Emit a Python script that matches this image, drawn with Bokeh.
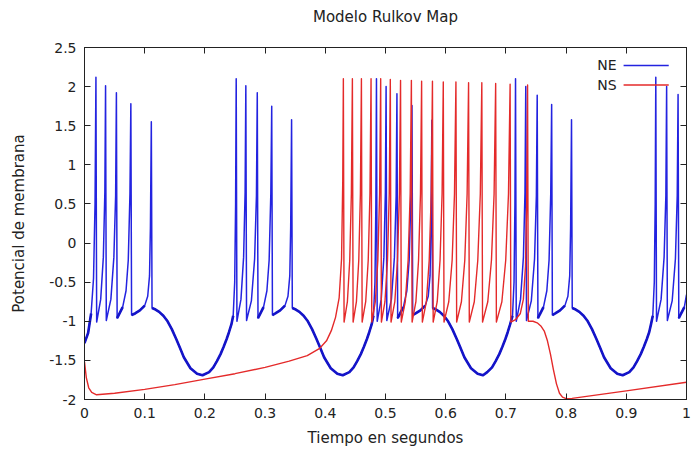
from bokeh.plotting import figure
from bokeh.models import (LinearAxis, FixedTicker, CustomJSTickFormatter, Range1d, Label,
                          CustomLabelingPolicy)
from bokeh.embed import file_html
from bokeh.resources import INLINE

FONT = "DejaVu Sans"

# Axis ticks
x_ticks = [0, 0.1, 0.2, 0.3, 0.4, 0.5, 0.6, 0.7, 0.8, 0.9, 1]
y_ticks = [-2, -1.5, -1, -0.5, 0, 0.5, 1, 1.5, 2, 2.5]

# NE: bursting neuron membrane potential (time in s, potential)
ne_t = [
    # burst 1
    0.000, 0.006, 0.011, 0.015, 0.0175, 0.019, 0.0202,
    0.0269, 0.0313, 0.0338, 0.035, 0.0362,
    0.0438, 0.0488, 0.0517, 0.053, 0.0542,
    0.0634, 0.069, 0.0727, 0.0755, 0.077, 0.0782,
    0.084, 0.092, 0.100, 0.105, 0.108, 0.1095, 0.111, 0.1122,
    0.118, 0.124, 0.131, 0.138, 0.145, 0.152, 0.158, 0.165, 0.176, 0.187, 0.196, 0.207,
    0.214, 0.220, 0.226, 0.231, 0.236, 0.240, 0.244, 0.247, 0.2495, 0.251, 0.252, 0.2532,
    # burst 2
    0.2599, 0.2643, 0.2668, 0.268, 0.2692,
    0.2772, 0.2826, 0.2856, 0.287, 0.2882,
    0.2974, 0.303, 0.3067, 0.3095, 0.311, 0.3122,
    0.317, 0.325, 0.333, 0.338, 0.341, 0.3425, 0.344, 0.3452,
    0.351, 0.357, 0.364, 0.371, 0.378, 0.385, 0.391, 0.398, 0.409, 0.420, 0.429, 0.440,
    0.447, 0.453, 0.459, 0.464, 0.469, 0.473, 0.477, 0.480, 0.4825, 0.484, 0.485, 0.4862,
    # burst 3
    0.4929, 0.4973, 0.4998, 0.501, 0.5022,
    0.5098, 0.5148, 0.5177, 0.519, 0.5202,
    0.5297, 0.5355, 0.5393, 0.5423, 0.544, 0.5452,
    0.550, 0.558, 0.566, 0.571, 0.574, 0.5755, 0.577, 0.5782,
    0.584, 0.590, 0.597, 0.604, 0.611, 0.618, 0.624, 0.631, 0.642, 0.653, 0.662, 0.669,
    0.677, 0.683, 0.689, 0.694, 0.699, 0.703, 0.707, 0.711, 0.7135, 0.715, 0.716, 0.7172,
    # burst 4
    0.7243, 0.7291, 0.7317, 0.733, 0.7342,
    0.7422, 0.7476, 0.7506, 0.752, 0.7532,
    0.7624, 0.768, 0.7717, 0.7745, 0.776, 0.7772,
    0.782, 0.790, 0.798, 0.803, 0.806, 0.8075, 0.809, 0.8102,
    0.816, 0.822, 0.829, 0.836, 0.843, 0.850, 0.856, 0.863, 0.874, 0.885, 0.894, 0.905,
    0.912, 0.918, 0.924, 0.929, 0.934, 0.938, 0.941, 0.944, 0.9465, 0.948, 0.949, 0.9502,
    # burst 5
    0.9578, 0.9628, 0.9657, 0.967, 0.9682,
    0.9762, 0.9816, 0.9846, 0.986, 0.9872,
    0.9964, 1.000,
]
ne_v = [
    # burst 1
    -1.28, -1.15, -0.90, -0.45, 0.50, 2.12, -1.01,
    -0.72, -0.18, 0.65, 2.01, -0.99,
    -0.72, -0.18, 0.60, 1.92, -0.96,
    -0.82, -0.61, -0.22, 0.63, 1.78, -0.92,
    -0.90, -0.86, -0.80, -0.68, -0.42, 0.20, 1.55, -0.83,
    -0.85, -0.88, -0.93, -1.00, -1.10, -1.22, -1.33, -1.46, -1.60, -1.67, -1.69, -1.65,
    -1.59, -1.51, -1.42, -1.33, -1.23, -1.14, -1.04, -0.93, -0.50, 0.50, 2.10, -1.00,
    # burst 2
    -0.72, -0.18, 0.65, 2.01, -0.99,
    -0.74, -0.20, 0.60, 1.92, -0.96,
    -0.82, -0.61, -0.22, 0.63, 1.75, -0.92,
    -0.90, -0.86, -0.80, -0.68, -0.42, 0.20, 1.575, -0.83,
    -0.85, -0.88, -0.93, -1.00, -1.10, -1.22, -1.33, -1.46, -1.60, -1.67, -1.69, -1.65,
    -1.59, -1.51, -1.42, -1.33, -1.23, -1.14, -1.04, -0.93, -0.50, 0.50, 2.10, -1.00,
    # burst 3
    -0.72, -0.18, 0.65, 2.00, -0.99,
    -0.72, -0.18, 0.60, 1.91, -0.96,
    -0.82, -0.61, -0.22, 0.63, 1.76, -0.92,
    -0.90, -0.86, -0.80, -0.68, -0.42, 0.20, 1.57, -0.83,
    -0.85, -0.88, -0.93, -1.00, -1.10, -1.22, -1.33, -1.46, -1.60, -1.67, -1.69, -1.65,
    -1.59, -1.51, -1.42, -1.33, -1.23, -1.14, -1.04, -0.93, -0.50, 0.50, 2.10, -1.00,
    # burst 4
    -0.72, -0.18, 0.65, 2.00, -0.99,
    -0.74, -0.20, 0.60, 1.89, -0.96,
    -0.82, -0.61, -0.22, 0.63, 1.77, -0.92,
    -0.90, -0.86, -0.80, -0.68, -0.42, 0.20, 1.575, -0.83,
    -0.85, -0.88, -0.93, -1.00, -1.10, -1.22, -1.33, -1.46, -1.60, -1.67, -1.69, -1.65,
    -1.59, -1.51, -1.42, -1.33, -1.23, -1.14, -1.04, -0.93, -0.50, 0.50, 2.12, -1.00,
    # burst 5
    -0.72, -0.18, 0.60, 2.00, -0.99,
    -0.74, -0.20, 0.60, 1.90, -0.96,
    -0.82, -0.66,
]

# NS: slow neuron membrane potential
ns_t = [
    0.000, 0.003, 0.007, 0.012, 0.020, 0.050, 0.100, 0.150, 0.200, 0.250, 0.300,
    0.340, 0.370, 0.390, 0.402, 0.410, 0.417, 0.423, 0.427, 0.429, 0.430, 0.4312,
    0.4367, 0.4406, 0.4433, 0.445, 0.4462,
    0.4517, 0.4556, 0.4583, 0.460, 0.4612,
    0.4671, 0.4713, 0.4742, 0.476, 0.4772,
    0.4831, 0.4873, 0.4902, 0.492, 0.4932,
    0.4991, 0.5033, 0.5062, 0.508, 0.5092,
    0.5155, 0.5199, 0.5231, 0.525, 0.5262,
    0.5329, 0.5376, 0.5410, 0.543, 0.5442,
    0.5505, 0.5549, 0.5581, 0.560, 0.5612,
    0.5679, 0.5726, 0.5760, 0.578, 0.5792,
    0.5859, 0.5906, 0.5940, 0.596, 0.5972,
    0.6051, 0.6107, 0.6146, 0.617, 0.6182,
    0.6261, 0.6317, 0.6356, 0.638, 0.6392,
    0.6475, 0.6533, 0.6575, 0.660, 0.6612,
    0.6699, 0.6760, 0.6804, 0.683, 0.6842,
    0.6933, 0.6997, 0.7043, 0.707, 0.7082,
    0.716, 0.724, 0.729, 0.7325, 0.7345, 0.736, 0.7372,
    0.745, 0.752, 0.758, 0.764, 0.769, 0.774, 0.779, 0.784, 0.789, 0.794, 0.800,
    0.810, 0.900, 1.000,
]
ns_v = [
    -1.52, -1.72, -1.85, -1.91, -1.94, -1.92, -1.87, -1.81, -1.74, -1.67, -1.59,
    -1.51, -1.44, -1.35, -1.25, -1.12, -0.95, -0.70, -0.20, 0.80, 2.10, -1.01,
    -0.75, -0.22, 0.63, 2.10, -1.01,
    -0.75, -0.22, 0.63, 2.10, -1.01,
    -0.75, -0.22, 0.63, 2.10, -1.01,
    -0.75, -0.22, 0.63, 2.10, -1.01,
    -0.75, -0.22, 0.63, 2.09, -1.01,
    -0.75, -0.22, 0.63, 2.08, -1.01,
    -0.75, -0.22, 0.63, 2.08, -1.01,
    -0.75, -0.22, 0.63, 2.07, -1.01,
    -0.75, -0.22, 0.63, 2.07, -1.01,
    -0.75, -0.22, 0.63, 2.06, -1.01,
    -0.75, -0.22, 0.63, 2.06, -1.01,
    -0.75, -0.22, 0.63, 2.05, -1.01,
    -0.75, -0.22, 0.63, 2.05, -1.01,
    -0.75, -0.22, 0.63, 2.04, -1.01,
    -0.75, -0.22, 0.63, 2.03, -1.01,
    -0.98, -0.90, -0.72, -0.30, 0.50, 2.02, -1.00,
    -1.00, -1.02, -1.06, -1.13, -1.25, -1.42, -1.62, -1.80, -1.92, -1.97, -1.99,
    -1.985, -1.89, -1.78,
]

NE_COLOR = "#2323e0"
NE_SLOW_COLOR = "#1414c8"
NS_COLOR = "#e42a2a"
TEXT_COLOR = "#222222"

p = figure(
    width=691, height=460, title=None,
    x_range=Range1d(0, 1), y_range=Range1d(-2, 2.5),
    output_backend="svg", toolbar_location=None,
    min_border_left=84, min_border_right=2, min_border_top=47, min_border_bottom=61,
    x_axis_label="Tiempo en segundos", y_axis_label="Potencial de membrana",
)
p.background_fill_color = "white"
p.border_fill_color = "white"
p.grid.visible = False
p.outline_line_color = TEXT_COLOR
p.outline_line_width = 1

fmt = CustomJSTickFormatter(code="return tick.toString();")

for ax, ticks in ((p.xaxis[0], x_ticks), (p.yaxis[0], y_ticks)):
    ax.ticker = FixedTicker(ticks=ticks)
    ax.formatter = fmt
    ax.major_tick_in = 6
    ax.major_tick_out = 0
    ax.minor_tick_in = 0
    ax.minor_tick_out = 0
    ax.axis_line_color = TEXT_COLOR
    ax.major_tick_line_color = TEXT_COLOR
    ax.major_label_text_font = FONT
    ax.major_label_text_font_size = "14px"
    ax.major_label_text_color = TEXT_COLOR
    ax.major_label_standoff = 8
    ax.axis_label_text_font = FONT
    ax.axis_label_text_font_size = "15px"
    ax.axis_label_text_font_style = "normal"
    ax.axis_label_text_color = TEXT_COLOR
p.xaxis[0].axis_label_standoff = 8
p.yaxis[0].axis_label_standoff = 18

# mirrored ticks on top and right edges, without tick labels;
# the top one carries the chart title as its label
hide_all = CustomLabelingPolicy(code="for (const i of indices) indices.unset(i)")
for ticks, side, label in ((x_ticks, "above", "Modelo Rulkov Map"), (y_ticks, "right", None)):
    mirror = LinearAxis(
        ticker=FixedTicker(ticks=ticks), formatter=fmt,
        major_label_policy=hide_all,
        major_label_text_font_size="1px", major_label_standoff=0,
        major_tick_in=6, major_tick_out=0, minor_tick_in=0, minor_tick_out=0,
        axis_line_color=TEXT_COLOR, major_tick_line_color=TEXT_COLOR,
        axis_label=label, axis_label_standoff=18,
        axis_label_text_font=FONT, axis_label_text_font_size="15px",
        axis_label_text_font_style="normal", axis_label_text_color=TEXT_COLOR,
    )
    p.add_layout(mirror, side)

p.line(ne_t, ne_v, line_color=NE_COLOR, line_width=1.5, line_join="round")

# the resting / slow-wave stretches of NE are drawn heavier
slow_xs, slow_ys = [], []
run_x, run_y = [], []
for t, v in zip(ne_t, ne_v):
    if v <= -0.8:
        run_x.append(t)
        run_y.append(v)
    else:
        if len(run_x) > 1:
            slow_xs.append(run_x)
            slow_ys.append(run_y)
        run_x, run_y = [], []
if len(run_x) > 1:
    slow_xs.append(run_x)
    slow_ys.append(run_y)
p.multi_line(slow_xs, slow_ys, line_color=NE_SLOW_COLOR, line_width=2.6, line_join="round")

p.line(ns_t, ns_v, line_color=NS_COLOR, line_width=1.4, line_join="round")

# key in the upper right corner: label, then line sample
for name, color, ky in (("NE", NE_COLOR, 2.27), ("NS", NS_COLOR, 2.02)):
    p.add_layout(Label(x=0.884, y=ky, text=name, text_align="right", text_baseline="middle",
                       text_font=FONT, text_font_size="14px", text_color=TEXT_COLOR))
    p.line([0.8955, 0.9705], [ky, ky], line_color=color, line_width=1.4)

open("out.html", "w").write(file_html(p, INLINE))
